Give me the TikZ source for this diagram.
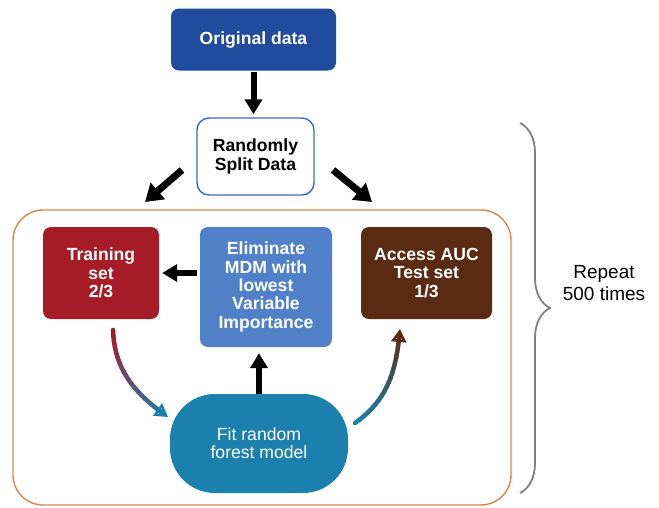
\documentclass[tikz,border=0pt]{standalone}
\usepackage{fontspec}
\setmainfont{Liberation Sans}
\usetikzlibrary{arrows.meta,positioning,calc,decorations.pathreplacing}
\definecolor{OrigBlue}{HTML}{214C9E}
\definecolor{SplitBlue}{HTML}{3A6BB5}
\definecolor{TrainRed}{HTML}{A61C26}
\definecolor{ElimBlue}{HTML}{5080C8}
\definecolor{AucBrown}{HTML}{5B2A12}
\definecolor{FitTeal}{HTML}{1B80AD}
\definecolor{FrameOrange}{HTML}{D4874F}
\definecolor{BraceGray}{HTML}{7F7F7F}

\begin{document}
\begin{tikzpicture}[x=1pt,y=1pt,
    box/.style={rounded corners=8pt, text=white, inner sep=0pt, align=center,
      font=\bfseries\fontsize{17.6}{18.3}\selectfont},
    bigarrow/.style={line width=6pt, -{Triangle[length=15pt,width=17pt]}},
    gradseg/.style={line width=4.5pt, line cap=round}]
  \useasboundingbox (0,0) rectangle (659,-507);

  % outer loop frame
  \draw[FrameOrange, line width=1.4pt, rounded corners=30pt] (13,-210) rectangle (511,-505);

  \node[box, fill=OrigBlue, minimum width=165pt, minimum height=62pt] (orig) at (253.5,-39.5) {Original data};
  \node[box, fill=white, draw=SplitBlue, line width=1.4pt, text=black, rounded corners=12pt,
    minimum width=117pt, minimum height=77pt] (split) at (255.5,-156.5) {Randomly\\Split Data};
  \node[box, fill=TrainRed, minimum width=116pt, minimum height=92pt] (train) at (101,-273) {Training\\set\\2/3};
  \node[box, fill=ElimBlue, minimum width=132pt, minimum height=120pt] (elim) at (266,-287)
    {Eliminate\\MDM with\\lowest\\Variable\\Importance};
  \node[box, fill=AucBrown, minimum width=131pt, minimum height=92pt] (auc) at (426.5,-273) {Access AUC\\Test set\\1/3};
  \node[box, fill=FitTeal, rounded corners=45pt, minimum width=178pt, minimum height=99pt,
    font=\fontsize{17.6}{17.7}\selectfont] (fit) at (259,-443.5) {Fit random\\forest model};

  % black arrows
  \draw[bigarrow, shorten <=1pt, shorten >=3pt] (orig.south) -- (orig.south |- split.north);
  \coordinate (lsrc) at (182,-170);
  \coordinate (ltip) at (145,-202);
  \coordinate (rsrc) at (333,-170);
  \coordinate (rtip) at (372,-202);
  \draw[line width=7pt, -{Triangle[length=17pt,width=21pt]}] (lsrc) -- (ltip);
  \draw[line width=7pt, -{Triangle[length=17pt,width=21pt]}] (rsrc) -- (rtip);
  \draw[bigarrow, shorten <=3pt, shorten >=3pt] (elim.west |- train.east) -- (train.east);
  \draw[bigarrow, shorten >=6pt] (fit.north) -- (fit.north |- elim.south);

  % gradient arrows
  \coordinate (lstart) at (113,-330);
  \coordinate (lend) at (168,-417);
  \coordinate (rstart) at (355,-423);
  \coordinate (rend) at (400,-329);
  \foreach \i in {0,...,20} {
    \path (lstart) to[out=-88,in=145] coordinate[pos=\i/20] (l\i) (lend);
    \path (rstart) to[out=35,in=-95] coordinate[pos=\i/20] (r\i) (rend);
  }
  \foreach \i [evaluate=\i as \j using int(\i+1), evaluate=\i as \p using int(100-5*\i)] in {0,...,18} {
    \draw[gradseg, color=TrainRed!\p!FitTeal] (l\i) -- (l\j);
    \draw[gradseg, color=FitTeal!\p!AucBrown] (r\i) -- (r\j);
  }
  \draw[gradseg, line cap=butt, FitTeal, -{Triangle[open,length=13pt,width=15pt,line width=2.5pt]}] (l19) -- (l20);
  \draw[gradseg, line cap=butt, AucBrown, -{Triangle[open,length=13pt,width=15pt,line width=2.5pt]}] (r19) -- (r20);

  % repeat brace
  \draw[BraceGray, line width=1.8pt, decorate, decoration={brace, amplitude=30pt}] (520,-123) -- (520,-493);
  \node[font=\fontsize{19}{21.7}\selectfont, align=center] (rep) at (604,-283) {Repeat\\500 times};
\end{tikzpicture}
\end{document}
